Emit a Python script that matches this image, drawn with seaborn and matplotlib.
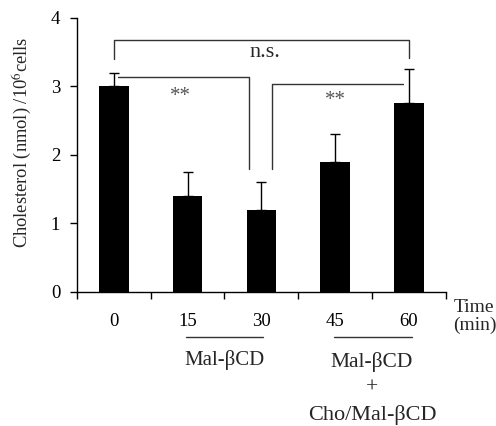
import matplotlib
matplotlib.use("Agg")
import matplotlib.pyplot as plt
import matplotlib.transforms as mtransforms
import seaborn as sns
import pandas as pd
import numpy as np

# Data
times = ["0", "15", "30", "45", "60"]
cholesterol = [3.0, 1.4, 1.2, 1.9, 2.75]
sd_upper = [0.2, 0.35, 0.4, 0.4, 0.5]

df = pd.DataFrame({"time": times, "chol": cholesterol})

sns.set_theme(style="ticks")
plt.rcParams["font.family"] = ["Liberation Serif", "DejaVu Serif"]
plt.rcParams["mathtext.fontset"] = "stix"

fig = plt.figure(figsize=(4.96, 4.26), dpi=100)
ax = fig.add_axes([0.155, 0.315, 0.744, 0.643])

sns.barplot(data=df, x="time", y="chol", color="black", width=0.4,
            errorbar=None, ax=ax, saturation=1, edgecolor="black", linewidth=0)
xs = np.arange(len(times))
ax.errorbar(xs, cholesterol, yerr=[np.zeros(len(times)), sd_upper], fmt="none",
            ecolor="black", elinewidth=1, capsize=3.5, capthick=1)

ax.set_xlim(-0.5, len(times) - 0.5)
ax.set_ylim(0, 4)
ax.set_yticks([0, 1, 2, 3, 4])
ax.set_yticklabels(["0", "1", "2", "3", "4"], fontsize=13.5)
ax.tick_params(axis="y", length=5, width=1, pad=7, color="black", labelcolor="black")

# major ticks at category boundaries, labels at centers
ax.set_xticks(np.arange(-0.5, len(times)), labels=[""] * (len(times) + 1))
ax.set_xticks(xs, labels=times, minor=True)
ax.tick_params(axis="x", which="major", length=5, width=1, color="black")
ax.tick_params(axis="x", which="minor", length=0, pad=15, labelsize=13.5, labelcolor="black")

ax.set_xlabel("")
ax.set_ylabel("Cholesterol (nmol) /10$^{6}$cells", fontsize=13.3)
ax.yaxis.set_label_coords(-0.115, 0.545)
for s in ["top", "right"]:
    ax.spines[s].set_visible(False)
for s in ["left", "bottom"]:
    ax.spines[s].set_color("black")
    ax.spines[s].set_linewidth(1)

lc = "#333333"
# n.s. bracket
ax.plot([0.0, 0.0, 4.0, 4.0], [3.4, 3.67, 3.67, 3.42], color=lc, lw=1)
ax.text(2.05, 3.5, "n.s.", ha="center", va="center", fontsize=16)
# ** bracket 1
ax.plot([0.06, 1.83, 1.83], [3.13, 3.13, 1.8], color=lc, lw=1)
ax.text(0.9, 2.85, "**", ha="center", va="center", fontsize=15, color="#555555")
# ** bracket 2
ax.plot([3.92, 2.14, 2.14], [3.03, 3.03, 1.8], color=lc, lw=1)
ax.text(3.0, 2.8, "**", ha="center", va="center", fontsize=15, color="#555555")

trans = mtransforms.blended_transform_factory(ax.transData, ax.transAxes)
ax.text(4.6, -0.058, "Time", transform=trans, ha="left", va="center", fontsize=14)
ax.text(4.6, -0.124, "(min)", transform=trans, ha="left", va="center", fontsize=14)

ax.plot([0.98, 2.02], [-0.164, -0.164], transform=trans, color=lc, lw=1, clip_on=False)
ax.plot([2.98, 4.04], [-0.164, -0.164], transform=trans, color=lc, lw=1, clip_on=False)
ax.text(1.5, -0.248, "Mal-βCD", transform=trans, ha="center", va="center", fontsize=15)
ax.text(3.5, -0.255, "Mal-βCD", transform=trans, ha="center", va="center", fontsize=15.5)
ax.text(3.5, -0.35, "+", transform=trans, ha="center", va="center", fontsize=15.5)
ax.text(3.5, -0.449, "Cho/Mal-βCD", transform=trans, ha="center", va="center", fontsize=16)

fig.savefig("out.png", dpi=100, facecolor="white")
